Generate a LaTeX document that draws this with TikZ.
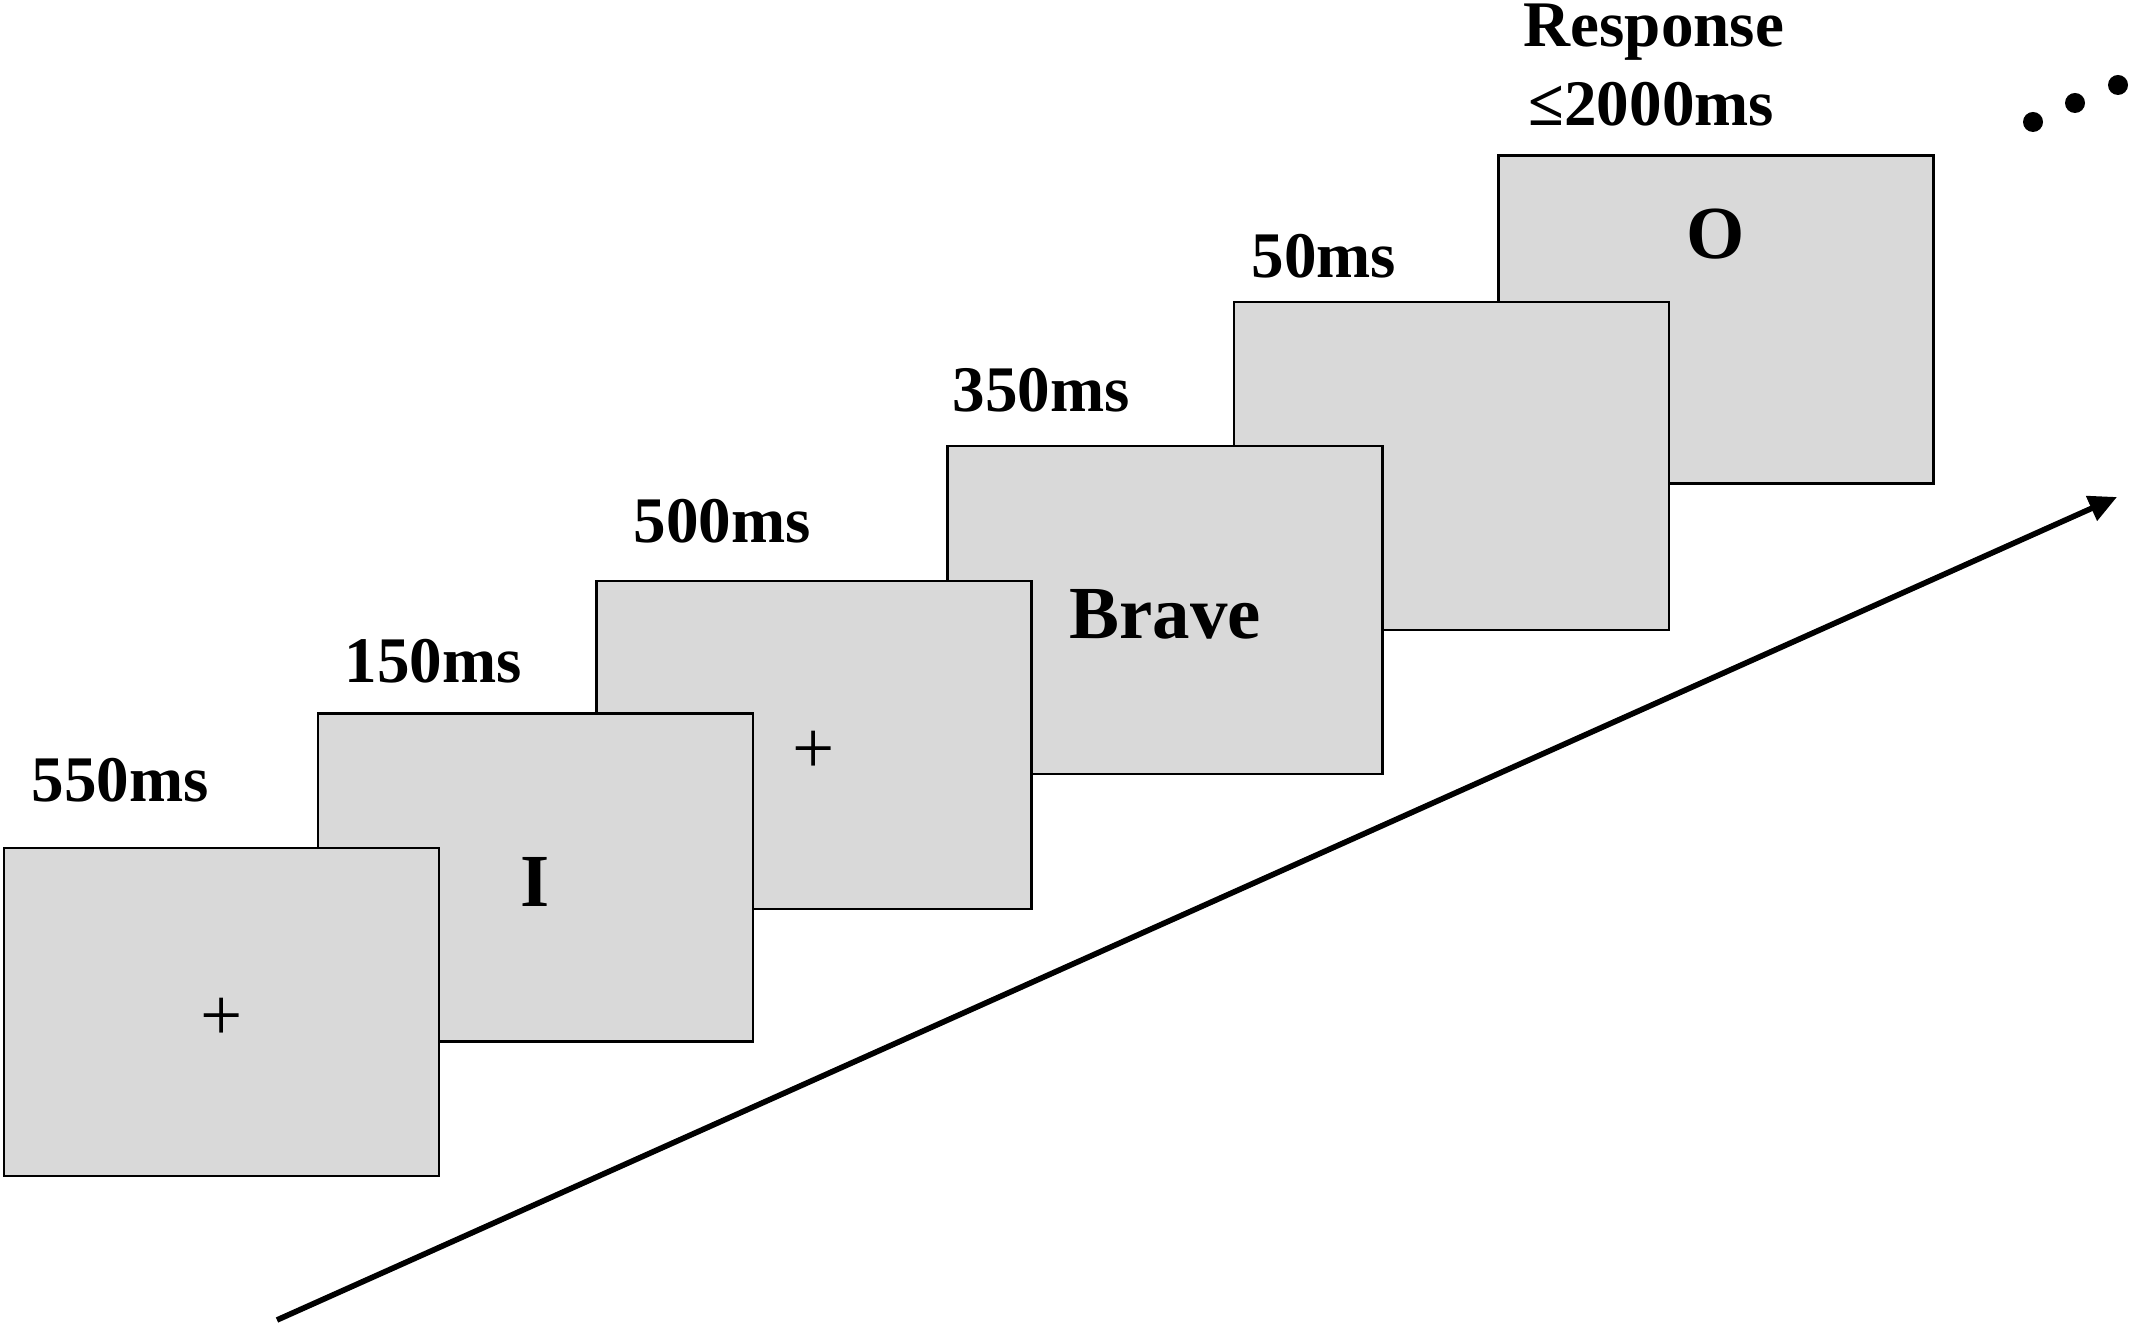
\documentclass[tikz,border=0pt]{standalone}
\usepackage{fontspec}
\setmainfont{Liberation Serif}
\usetikzlibrary{arrows.meta}
\definecolor{screengray}{HTML}{D9D9D9}
\begin{document}
\begin{tikzpicture}[x=0.01cm,y=-0.01cm,
  screen/.style={draw=black,line width=0.75pt,fill=screengray,minimum width=4.35cm,minimum height=3.28cm,inner sep=0pt,text height=16.4pt,text depth=0pt,font=\bfseries\fontsize{21.3}{24}\selectfont},
  dur/.style={anchor=base west,inner sep=0pt,font=\bfseries\fontsize{18.5}{22}\selectfont},
  dot/.style={circle,fill=black,inner sep=0pt,minimum size=2mm}]
\useasboundingbox (0,0) rectangle (2133,1328);
% screens, the last one first so that the earlier ones lie on top
\node[screen] (s6) at (1716,319.5) {};
\node[screen] (s5) at (1451.5,466) {};
\node[screen] (s4) at (1165,610) {Brave};
\node[screen] (s3) at (814,745) {\mdseries +};
\node[screen] (s2) at (535.5,877.5) {I};
\node[screen] (s1) at (221.5,1012) {\mdseries +};
\node[font=\bfseries\fontsize{21.3}{24}\selectfont] (o) at (1716,234) {O};
% durations
\node[dur] (l1) at (31,801) {550ms};
\node[dur] (l2) at (344,683) {150ms};
\node[dur] (l3) at (633,543) {500ms};
\node[dur] (l4) at (952,412) {350ms};
\node[dur] (l5) at (1251,278) {50ms};
\node[dur] (l6) at (1523,47) {Response};
\node[dur] (l7) at (1528,126) {≤2000ms};
% time axis
\coordinate (tstart) at (277,1320);
\coordinate (tend) at (2117,497);
\draw[line width=1.6pt,-{Triangle[length=2.8mm,width=2.6mm]}] (tstart) -- (tend);
\node[dot] (d1) at (2033,122) {};
\node[dot] (d2) at (2075,103) {};
\node[dot] (d3) at (2118,85) {};
\end{tikzpicture}
\end{document}
